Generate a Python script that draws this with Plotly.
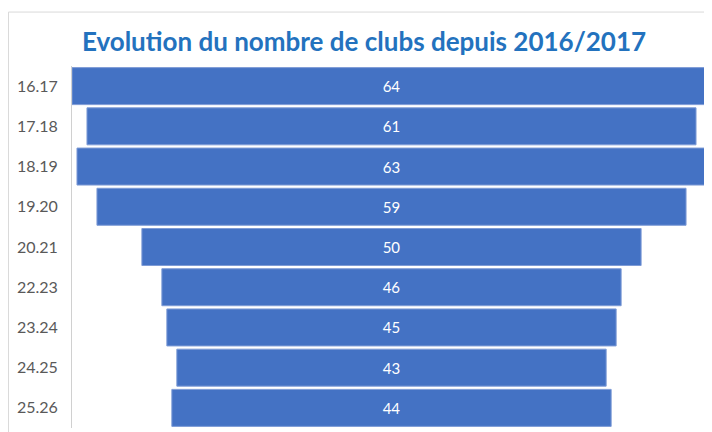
import plotly.graph_objects as go

seasons = ["16.17", "17.18", "18.19", "19.20", "20.21", "22.23", "23.24", "24.25", "25.26"]
clubs = [64, 61, 63, 59, 50, 46, 45, 43, 44]

fig = go.Figure(go.Funnel(
    y=seasons,
    x=clubs,
    textinfo="value",
    textposition="inside",
    insidetextfont=dict(color="white", size=15, family="Lato"),
    marker=dict(color="#4472C4", line=dict(color="#7E9BD6", width=1)),
    connector=dict(visible=False),
))

# the page body adds an 8px offset, so margins are shifted to compensate
fig.update_layout(
    width=712, height=432,
    margin=dict(l=64, r=9, t=58, b=12),
    paper_bgcolor="white", plot_bgcolor="white",
    funnelgap=0.08,
    showlegend=False,
    title=dict(text="<b>Evolution du nombre de clubs depuis 2016/2017</b>",
               x=0.5, xanchor="center", y=0.921, yanchor="middle",
               font=dict(family="Lato", size=26, color="#2372BE")),
    font=dict(family="Lato"),
)
fig.update_xaxes(range=[-32, 32], visible=False)
fig.update_yaxes(type="category", showline=True, linecolor="#D0D0D0", linewidth=1,
                 ticks="", ticklabelstandoff=10, automargin=False,
                 tickfont=dict(family="Lato", size=16, color="#595959"))

# light outer chart border
fig.add_shape(type="rect", xref="paper", yref="paper",
              x0=-0.0994, x1=1.05, y0=-0.05, y1=1.149,
              line=dict(color="#D9D9D9", width=1), layer="below")

fig.write_html("out.html")
